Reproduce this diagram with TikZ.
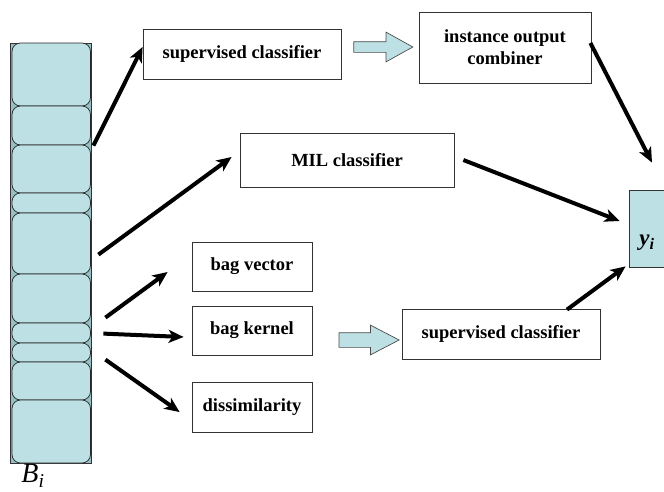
\documentclass[tikz,border=0pt]{standalone}
\usepackage{fontspec}
\setmainfont{Liberation Serif}
\usetikzlibrary{calc, arrows.meta, shapes.arrows}
\definecolor{BagBlue}{RGB}{188,224,228}
\definecolor{BagEdge}{RGB}{150,190,195}
\newcommand{\BoxFont}{\bfseries\fontsize{18.5}{22}\selectfont}
\tikzset{WhiteBox/.style={
    inner sep=0pt,
    minimum height=50pt,
    draw=black!80,
    line width=0.8pt,
    fill=white,
    align=center,
    font=\BoxFont
    }
}
\tikzset{BagBox/.style={
    inner sep=0pt,
    draw=black!80,
    line width=0.8pt,
    fill=BagEdge
    }
}
\tikzset{CellBox/.style={
    draw=black!85,
    line width=0.7pt,
    fill=BagBlue,
    rounded corners=8.5pt
    }
}
\tikzset{BlueArrow/.style={
    single arrow,
    inner xsep=0pt,
    draw=black!70,
    line width=0.7pt,
    fill=BagBlue
    }
}
\tikzset{BlackArrow/.style={
    -{Stealth[length=15pt,width=13pt,inset=4pt]},
    line width=4pt
    }
}

\begin{document}
\begin{tikzpicture}[x=1pt, y=-1pt]
    \useasboundingbox (0,0) rectangle (664,491);

    % bag of instances
    \node (bag) [BagBox, minimum width=81pt, minimum height=420pt] at (51,253) {};
    \foreach \t/\b in {43/106, 106/145, 145/193, 193/213, 213/274, 274/323, 323/343, 343/362, 362/400, 400/463}
        \draw[CellBox] (12,\t) rectangle (90.5,\b);
    \node (bagname) at (33,476) {\fontsize{28}{31}\selectfont\itshape B\textsubscript{i}};

    % output label
    \node (ybox) [BagBox, fill=BagBlue, minimum width=40pt, minimum height=77pt] at (649,228.5) {};
    \node (ylabel) at (647,243) {\fontsize{23}{26}\selectfont\bfseries\itshape y\textsubscript{i}};

    \node (SupTop) [WhiteBox, minimum width=198pt] at (242,54) {supervised classifier};
    \node (Combiner) [WhiteBox, minimum width=172pt, minimum height=71pt] at (505,47.5) {instance output\\combiner};
    \node (MIL) [WhiteBox, minimum width=214pt, minimum height=54pt] at (347,160) {MIL classifier};

    \node (BagVec) [WhiteBox, minimum width=120pt, minimum height=49pt] at (252,266.5) {bag vector};
    \node (BagKer) [WhiteBox, minimum width=120pt, minimum height=49pt] at (252,330.5) {bag kernel};
    \node (Dissim) [WhiteBox, minimum width=120pt] at (252,407) {dissimilarity};
    \node (SupBot) [WhiteBox, minimum width=198pt] at (501,334) {supervised classifier};

    \node (flow1) [BlueArrow, inner ysep=5pt, minimum height=59pt, single arrow head extend=9.5pt, single arrow tip angle=58] at (378.5,47) {};
    \node (flow2) [BlueArrow, inner ysep=7pt, minimum height=60pt, single arrow head extend=7.5pt, single arrow tip angle=55] at (362,340) {};

    \coordinate (s1) at ($(bag.north east)+(1.5,103)$);
    \coordinate (s2) at ($(bag.north east)+(6.5,212)$);
    \coordinate (s3) at ($(bag.north east)+(13.5,275)$);
    \coordinate (s4) at ($(bag.north east)+(11.5,291)$);
    \coordinate (s5) at ($(bag.north east)+(13.5,317)$);

    \draw[BlackArrow] (s1) -- ($(SupTop.west)+(0,-7)$);
    \draw[BlackArrow] (s2) -- ($(MIL.west)+(-8,-3)$);
    \draw[BlackArrow] (s3) -- ($(BagVec.west)+(-24,5.5)$);
    \draw[BlackArrow] (s4) -- ($(BagKer.west)+(-8,6.5)$);
    \draw[BlackArrow] (s5) -- ($(Dissim.west)+(-12,5)$);

    \draw[BlackArrow] ($(Combiner.east)+(-1,-4.5)$) -- ($(ybox.north)+(3,-27)$);
    \draw[BlackArrow] ($(MIL.east)+(9,0)$) -- ($(ybox.west)+(-9,-7.5)$);
    \draw[BlackArrow] ($(SupBot.north)+(66,1)$) -- ($(ybox.south west)+(-3,-1)$);

\end{tikzpicture}
\end{document}
